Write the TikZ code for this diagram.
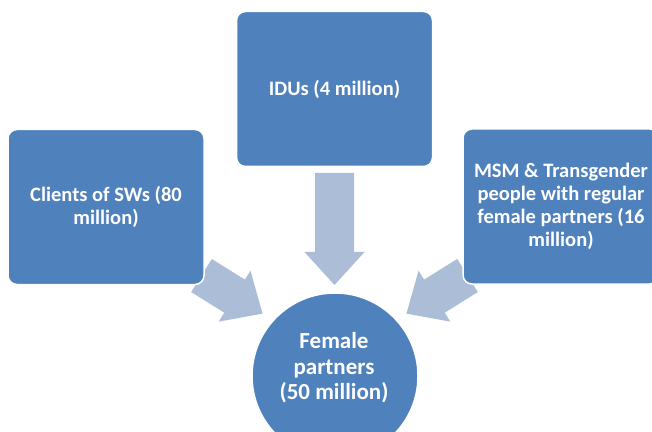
\documentclass[tikz,border=0pt]{standalone}
\usepackage{fontspec}
\setmainfont{Carlito}
\begin{document}
\begin{tikzpicture}[x=1pt,y=1pt,
  boxfill/.style={fill={rgb,255:red,79;green,129;blue,189}},
  arrowfill/.style={fill={rgb,255:red,172;green,189;blue,216}},
  groupbox/.style={boxfill, draw=white, line width=1.5pt, rounded corners=9pt,
    minimum width=196pt, minimum height=155pt, text=white, align=center,
    font=\fontsize{20.5}{23}\selectfont\bfseries, inner sep=0pt},
  target/.style={boxfill, draw=white, line width=1.5pt, circle, minimum size=166pt, inner sep=0pt},
  blockarrow/.pic={
    \fill[arrowfill] (0,-19.5) -- ({#1-33},-19.5) -- ({#1-33},-30) -- (#1,0)
      -- ({#1-33},30) -- ({#1-33},19.5) -- (0,19.5) -- cycle;}]
\useasboundingbox (0,0) rectangle (652,431);
\clip (0,0) rectangle (652,431);
\fill[white] (0,0) rectangle (652,431);

% block arrows pointing at the centre circle
\pic[rotate=-90] at (334.5,258) {blockarrow=112};
\pic[rotate=-32] at (201.5,155.5) {blockarrow=72};
\pic[rotate=-148] at (467.5,155.5) {blockarrow=72};

% source groups
\node[groupbox] (clients) at (106,224) {Clients of SWs (80\\million)};
\node[groupbox] (idus) at (334.5,342) {IDUs (4 million)};
\node[groupbox] (msm) at (561,224.5) {MSM \& Transgender\\people with regular\\female partners (16\\million)};

% target group
\node[target] (female) at (335,55) {};
\node[text=white, align=center, font=\fontsize{23}{25.5}\selectfont\bfseries] (femaletext) at (334,63) {Female\\partners\\(50 million)};
\end{tikzpicture}
\end{document}
